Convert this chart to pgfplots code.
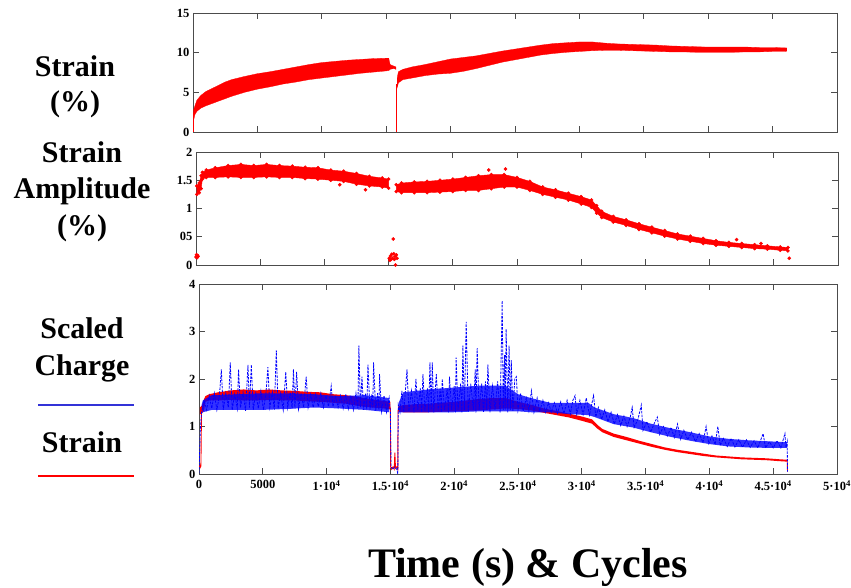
\documentclass[border=0pt]{standalone}
\usepackage{fontspec}
\setmainfont{Liberation Serif}
\usepackage{graphicx}
\usepackage{pgfplots}
\usepackage{pgfplotstable}
\pgfplotsset{compat=1.18}
\usepgfplotslibrary{fillbetween}
\newcommand{\tl}[1]{{\bfseries\fontsize{12.5}{14}\selectfont #1}}
\definecolor{legblue}{RGB}{50,50,215}

\pgfplotstableread{
x lo hi
0 0.0 0.3
50 1.5 2.8
150 2.2 3.3
300 2.6 4.0
600 3.0 4.6
1000 3.3 5.1
1500 3.6 5.5
2000 3.9 5.9
2500 4.2 6.3
3000 4.5 6.6
4000 5.0 7.0
5000 5.4 7.35
6000 5.7 7.6
7000 6.05 7.9
8000 6.3 8.2
9000 6.6 8.5
10000 6.8 8.75
11000 7.0 8.9
12000 7.2 9.05
13000 7.4 9.15
14000 7.55 9.25
15000 7.7 9.3
15200 7.75 9.3
15300 7.9 8.5
15600 8.0 8.3
15750 7.9 8.2
}\strainA
\pgfplotstableread{
x lo hi
15850 5.6 6.8
15950 6.2 7.6
16300 6.6 7.9
17000 6.8 8.2
18000 7.1 8.5
19000 7.3 8.85
20000 7.4 9.2
21000 7.65 9.4
22000 8.0 9.6
23000 8.4 9.9
24000 8.8 10.2
25000 9.1 10.45
26000 9.4 10.7
27000 9.7 10.95
28000 9.9 11.15
29000 10.05 11.25
30000 10.15 11.35
31000 10.25 11.35
32000 10.3 11.2
33000 10.3 11.1
34000 10.25 11.05
35000 10.2 11.0
36000 10.15 10.95
37000 10.1 10.85
38000 10.1 10.8
39000 10.05 10.75
40000 10.05 10.7
41000 10.05 10.7
42000 10.05 10.7
43000 10.1 10.7
44000 10.1 10.65
45000 10.15 10.65
46000 10.15 10.6
46100 10.2 10.6
}\strainB
\pgfplotstableread{
x lo hi
60 1.25 1.40
250 1.28 1.45
400 1.35 1.58
500 1.52 1.64
800 1.55 1.68
1500 1.55 1.72
2500 1.56 1.76
3500 1.55 1.78
4500 1.55 1.76
5500 1.56 1.78
6500 1.55 1.76
7500 1.55 1.75
8500 1.53 1.73
9500 1.52 1.72
10500 1.50 1.68
11500 1.48 1.66
12500 1.43 1.62
13500 1.40 1.57
14500 1.38 1.54
15000 1.36 1.52
}\ampA
\pgfplotstableread{
x lo hi
15600 1.30 1.42
16000 1.28 1.45
17000 1.28 1.47
18000 1.28 1.48
19000 1.29 1.50
20000 1.30 1.52
21000 1.32 1.55
22000 1.32 1.58
23000 1.35 1.60
24000 1.38 1.60
25000 1.38 1.55
26000 1.32 1.48
27000 1.25 1.38
28000 1.20 1.33
29000 1.15 1.27
30000 1.08 1.21
30800 1.02 1.15
31200 0.92 1.05
31600 0.84 0.95
32500 0.76 0.86
33500 0.70 0.80
34500 0.63 0.73
35500 0.57 0.67
36500 0.51 0.61
37500 0.46 0.55
38500 0.42 0.51
39500 0.38 0.47
40500 0.35 0.43
41500 0.33 0.40
42500 0.31 0.38
43500 0.29 0.36
44500 0.28 0.34
45500 0.26 0.32
46100 0.25 0.31
}\ampB
\pgfplotstableread{
x lo hi
15600 1.32 1.42
16000 1.30 1.45
17000 1.30 1.47
18000 1.30 1.48
19000 1.31 1.50
20000 1.32 1.52
21000 1.33 1.55
22000 1.34 1.58
23000 1.36 1.60
24000 1.38 1.60
25000 1.37 1.52
26000 1.34 1.46
27000 1.29 1.38
28000 1.24 1.33
29000 1.19 1.27
30000 1.12 1.21
30800 1.06 1.15
31200 0.96 1.04
31600 0.88 0.95
32500 0.78 0.85
33500 0.71 0.78
34500 0.64 0.70
35500 0.57 0.63
36500 0.51 0.56
37500 0.46 0.51
38500 0.42 0.47
39500 0.38 0.43
40500 0.35 0.39
41500 0.33 0.37
42500 0.31 0.35
43500 0.30 0.34
44500 0.29 0.33
45500 0.27 0.31
46100 0.26 0.30
}\ampBb
\pgfplotstableread{
x lo hi
200 1.28 1.45
300 1.30 1.55
1000 1.35 1.66
3000 1.35 1.68
5000 1.35 1.70
7000 1.37 1.70
9000 1.40 1.68
11000 1.38 1.64
13000 1.35 1.66
14900 1.30 1.60
}\chgA
\pgfplotstableread{
x lo hi
15650 1.30 1.50
16000 1.30 1.72
18000 1.30 1.78
20000 1.30 1.82
22000 1.32 1.86
24000 1.32 1.86
25000 1.32 1.68
26000 1.30 1.60
27500 1.30 1.50
29000 1.26 1.50
30500 1.24 1.50
31000 1.20 1.40
32500 1.05 1.26
34000 0.98 1.18
35400 0.88 1.06
37000 0.78 0.96
38500 0.70 0.88
40000 0.63 0.79
41500 0.58 0.74
43000 0.56 0.71
44500 0.55 0.69
46100 0.55 0.67
}\chgB
\pgfplotstableread{
x y
0 0.14
40 0.18
80 0.13
120 0.17
150 0.15
15050 0.12
15100 0.08
15150 0.16
15200 0.10
15250 0.19
15300 0.12
15360 0.46
15400 0.20
15450 0.10
15500 0.15
15540 0.0
15600 0.18
15650 0.12
42100 0.45
44000 0.38
46200 0.12
24100 1.70
22800 1.68
11200 1.42
13200 1.33
}\ampOut
\pgfplotstableread{
x y
0 0.02
100 0.9
200 1.3
400 1.55
600 1.35
800 1.65
1000 1.38
1200 1.7
1400 1.35
1600 1.65
1750 2.2
1900 1.35
2100 1.7
2300 1.4
2450 2.35
2600 1.35
2800 1.68
3000 1.38
3100 2.2
3250 1.4
3450 1.72
3650 1.33
3840 2.3
3950 1.4
4100 2.3
4250 1.35
4450 1.7
4650 1.38
4850 1.75
5050 1.35
5250 1.7
5400 2.25
5550 1.4
5750 1.72
5900 1.35
6060 2.6
6200 1.38
6400 1.7
6600 1.35
6800 2.15
6950 1.4
7150 1.72
7300 1.38
7400 2.2
7520 1.4
7650 2.15
7800 1.37
8000 1.7
8200 1.4
8400 2.05
8550 1.4
8750 1.68
8950 1.4
9150 1.68
9350 1.42
9550 1.7
9750 1.4
9950 1.65
10150 1.42
10360 1.85
10500 1.42
10700 1.65
10900 1.4
11100 1.65
11300 1.38
11500 1.68
11700 1.37
11900 1.65
12100 1.35
12300 1.7
12450 1.38
12530 2.7
12650 1.4
12770 2.05
12900 1.35
13050 1.7
13150 1.36
13240 2.3
13400 1.35
13550 1.68
13620 1.4
13680 2.35
13850 1.33
14000 1.7
14100 1.35
14150 2.1
14300 1.32
14500 1.65
14700 1.3
14900 1.6
15000 1.3
15050 0.15
15200 0.1
15350 0.15
15500 0.1
15580 0.0
15620 1.45
15750 1.3
15900 1.75
16050 1.3
16300 2.2
16450 1.32
16650 1.75
16850 1.3
17000 2.0
17150 1.35
17350 1.8
17450 1.3
17550 2.1
17700 1.33
17900 1.8
18000 1.3
18100 2.35
18200 1.35
18280 2.35
18400 1.3
18600 2.1
18750 1.33
18900 1.8
19000 1.3
19060 2.0
19250 1.35
19450 1.8
19550 1.3
19630 2.05
19800 1.35
20000 1.85
20100 1.3
20150 2.45
20300 1.35
20500 1.9
20600 1.3
20680 2.7
20800 1.35
20940 3.2
21100 1.3
21300 1.9
21500 1.35
21650 2.2
21700 1.3
21800 2.65
21950 1.35
22150 1.9
22300 1.3
22450 1.95
22550 1.35
22640 2.3
22800 1.3
23000 1.85
23200 1.35
23400 1.95
23600 1.3
23760 3.65
23850 1.35
23950 2.5
24000 1.35
24070 3.05
24200 1.3
24300 2.7
24400 1.35
24470 2.4
24600 1.32
24750 2.0
24870 2.05
25000 1.35
25200 1.7
25400 1.32
25650 1.6
25850 1.33
26050 1.75
26250 1.3
26500 1.6
26700 1.32
26950 1.55
27150 1.3
27400 1.5
27600 1.3
27850 1.5
28100 1.28
28350 1.52
28600 1.27
28850 1.55
29100 1.26
29300 1.55
29470 1.65
29600 1.26
29850 1.55
30100 1.25
30350 1.6
30600 1.24
30920 1.65
31100 1.2
31300 1.4
31550 1.15
31800 1.35
32050 1.1
32300 1.3
32550 1.05
32800 1.25
33050 1.02
33300 1.22
33550 1.0
33800 1.2
33950 1.4
34100 0.98
34400 1.15
34660 1.45
34800 0.92
35100 1.1
35400 0.88
35700 1.08
35920 1.2
36100 0.83
36400 1.0
36700 0.8
37000 0.98
37250 0.77
37500 1.05
37750 0.73
38000 0.92
38300 0.72
38600 0.88
38900 0.68
39200 0.85
39500 0.66
39740 1.0
39950 0.64
40200 0.8
40450 0.62
40660 1.0
40850 0.6
41100 0.75
41400 0.58
41700 0.75
42000 0.57
42300 0.72
42600 0.56
42900 0.72
43200 0.56
43500 0.7
43800 0.55
44000 0.7
44210 0.85
44400 0.55
44700 0.68
45000 0.55
45300 0.7
45600 0.55
45920 0.85
46000 0.56
46100 0.68
46120 0.05
}\charge

\pgfplotsset{panel/.style={
  scale only axis, xmin=0, xmax=50000,
  axis line style={black!70, line width=0.9pt},
  tick style={black!70, line width=0.9pt},
  major tick length=6pt, tick align=inside,
  xtick={0,5000,10000,15000,20000,25000,30000,35000,40000,45000,50000},
  scaled x ticks=false, scaled y ticks=false,
  anchor=north west}}

\begin{document}
\begin{tikzpicture}

% top panel
\begin{axis}[panel, at={(193pt,-13pt)}, width=644pt, height=119pt,
  ymin=0, ymax=15, ytick={0,5,10,15},
  yticklabels={\tl{0},\tl{5},\tl{10},\tl{15}}, xticklabels={}]
\addplot[draw=none, name path=sa1] table[x=x,y=hi]{\strainA};
\addplot[draw=none, name path=sa2] table[x=x,y=lo]{\strainA};
\addplot[red, draw=red, line width=0.3pt] fill between[of=sa1 and sa2];
\addplot[draw=none, name path=sb1] table[x=x,y=hi]{\strainB};
\addplot[draw=none, name path=sb2] table[x=x,y=lo]{\strainB};
\addplot[red, draw=red, line width=0.3pt] fill between[of=sb1 and sb2];
\addplot[red, line width=0.9pt] coordinates {(15800,0) (15800,6.0)};
\addplot[red, line width=0.9pt] coordinates {(0,0) (0,2.5)};
\end{axis}

% middle panel
\begin{axis}[panel, at={(196pt,-152pt)}, width=642pt, height=113pt,
  ymin=0, ymax=2, ytick={0,0.5,1,1.5,2},
  yticklabels={\tl{0},\tl{05},\tl{1},\tl{1.5},\tl{2}}, xticklabels={}]
\addplot[draw=none, name path=aa1] table[x=x,y=hi]{\ampA};
\addplot[draw=none, name path=aa2] table[x=x,y=lo]{\ampA};
\addplot[red, draw=red] fill between[of=aa1 and aa2];
\addplot[draw=none, name path=ab1] table[x=x,y=hi]{\ampB};
\addplot[draw=none, name path=ab2] table[x=x,y=lo]{\ampB};
\addplot[red, draw=red] fill between[of=ab1 and ab2];
\addplot[red, only marks, mark=*, mark size=1.6pt] table[x=x,y=hi]{\ampA};
\addplot[red, only marks, mark=*, mark size=1.6pt] table[x=x,y=lo]{\ampA};
\addplot[red, only marks, mark=*, mark size=1.6pt] table[x=x,y=hi]{\ampB};
\addplot[red, only marks, mark=*, mark size=1.6pt] table[x=x,y=lo]{\ampB};
\addplot[red, only marks, mark=*, mark size=1.6pt] table[x=x,y=y]{\ampOut};
\end{axis}

% bottom panel
\begin{axis}[panel, at={(199pt,-284pt)}, width=638pt, height=190pt,
  ymin=0, ymax=4, ytick={0,1,2,3,4},
  xticklabel style={yshift=-3pt},
  yticklabels={\tl{0},\tl{1},\tl{2},\tl{3},\tl{4}},
  xticklabels={\tl{0},\tl{5000},\tl{1·10\textsuperscript{4}},\tl{1.5·10\textsuperscript{4}},\tl{2·10\textsuperscript{4}},\tl{2.5·10\textsuperscript{4}},\tl{3·10\textsuperscript{4}},\tl{3.5·10\textsuperscript{4}},\tl{4·10\textsuperscript{4}},\tl{4.5·10\textsuperscript{4}},\tl{5·10\textsuperscript{4}}}]
\addplot[draw=none, name path=ba1] table[x=x,y=hi]{\ampA};
\addplot[draw=none, name path=ba2] table[x=x,y=lo]{\ampA};
\addplot[red, draw=none] fill between[of=ba1 and ba2];
\addplot[draw=none, name path=bb1] table[x=x,y=hi]{\ampBb};
\addplot[draw=none, name path=bb2] table[x=x,y=lo]{\ampBb};
\addplot[red, draw=none] fill between[of=bb1 and bb2];
\addplot[red, line width=0.9pt] coordinates {(0,0.15) (60,0.18) (100,0.14) (150,0.17) (200,1.4) (250,1.3)};
\addplot[red, line width=0.9pt] coordinates {(15000,1.4) (15020,0.15) (15100,0.1) (15200,0.15) (15300,0.1) (15350,0.45) (15400,0.12) (15500,0.15) (15580,0.1) (15600,1.35)};
\addplot[red, line width=0.9pt] coordinates {(46100,0.28) (46120,0.05)};
\addplot[draw=none, name path=ca1] table[x=x,y=hi]{\chgA};
\addplot[draw=none, name path=ca2] table[x=x,y=lo]{\chgA};
\addplot[blue, draw=none, fill opacity=0.8] fill between[of=ca1 and ca2];
\addplot[draw=none, name path=cb1] table[x=x,y=hi]{\chgB};
\addplot[draw=none, name path=cb2] table[x=x,y=lo]{\chgB};
\addplot[blue, draw=none, fill opacity=0.8] fill between[of=cb1 and cb2];
\addplot[blue, line width=0.8pt, dash pattern=on 2.5pt off 1.2pt] table[x=x,y=y]{\charge};
\end{axis}

% left labels
\begin{scope}[font=\bfseries\fontsize{30}{36}\selectfont]
\node[anchor=base] at (75pt,-77pt) {Strain};
\node[anchor=base] at (75pt,-112pt) {(\%)};
\node[anchor=base] at (82pt,-163pt) {Strain};
\node[anchor=base] at (82pt,-199pt) {Amplitude};
\node[anchor=base] at (82pt,-236pt) {(\%)};
\node[anchor=base] at (82pt,-338pt) {Scaled};
\node[anchor=base] at (82pt,-375pt) {Charge};
\node[anchor=base] at (82pt,-452pt) {Strain};
\end{scope}
\draw[legblue, line width=2.5pt] (38pt,-405pt) -- (134pt,-405pt);
\draw[red, line width=2.5pt] (38pt,-476pt) -- (134pt,-476pt);
\node[anchor=base, font=\bfseries\fontsize{42}{48}\selectfont] at (528pt,-577pt) {Time (s) \& Cycles};
\pgfresetboundingbox
\path (0pt,0pt) rectangle (851pt,-588pt);
\end{tikzpicture}
\end{document}
